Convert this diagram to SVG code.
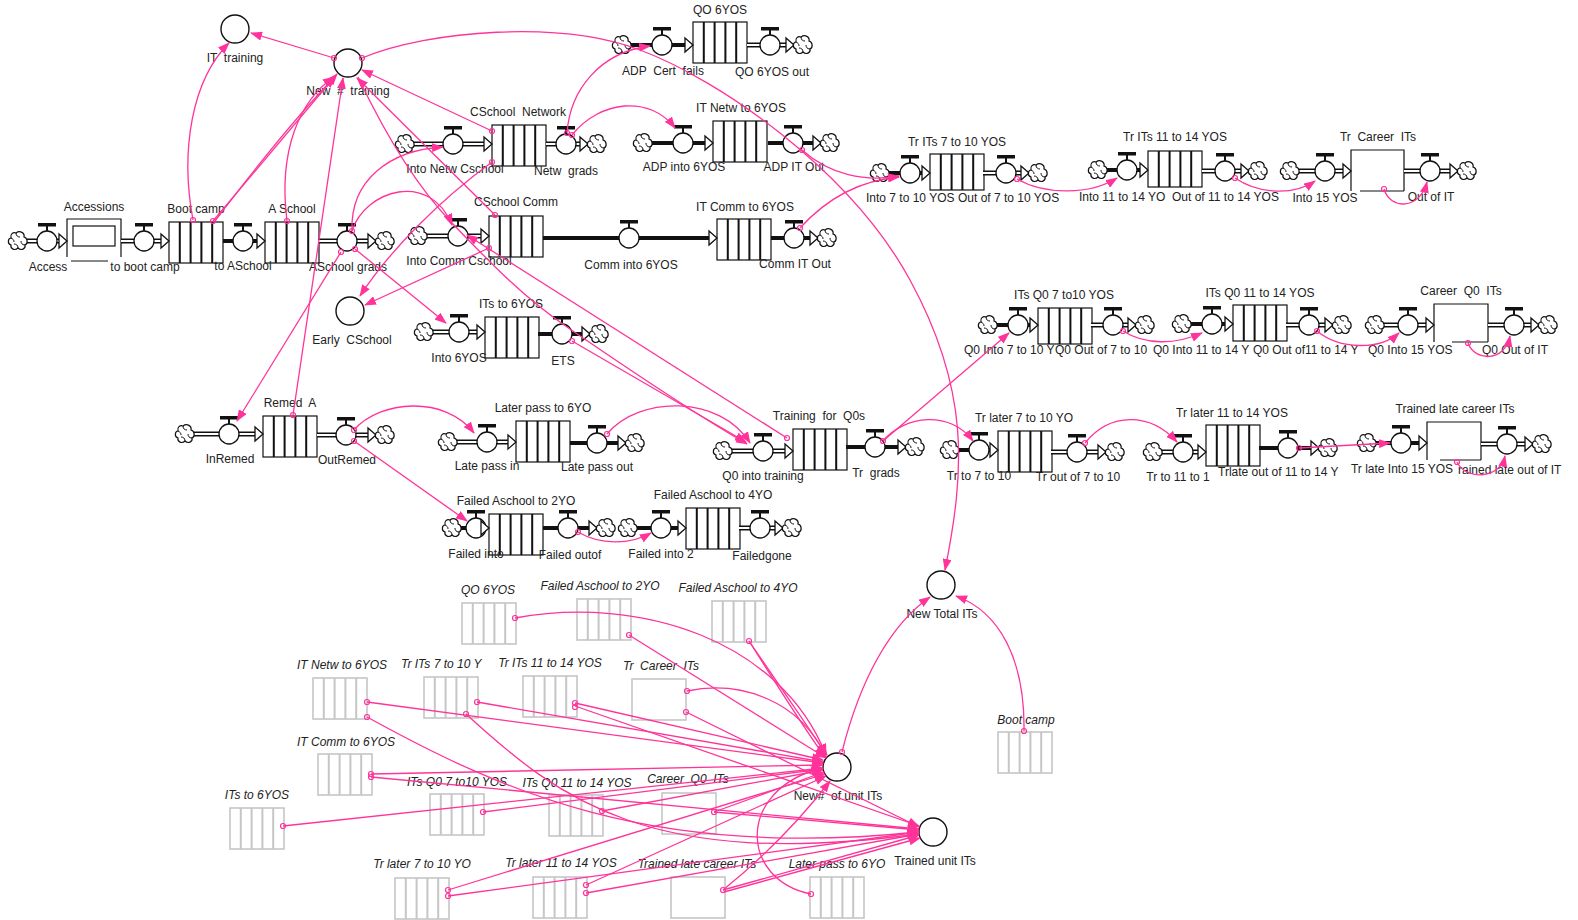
<svg xmlns="http://www.w3.org/2000/svg" width="1578" height="920" viewBox="0 0 1578 920" xml:space="preserve">
<defs>
<style>
text{font-family:"Liberation Sans",Arial,sans-serif;font-size:12px;fill:#222;text-anchor:middle;white-space:pre}
text.s{text-anchor:start}
.gh text{font-style:italic}
.st{fill:#fff;stroke:#111;stroke-width:1.2}
.cv{stroke:#111;stroke-width:2;fill:none}
.gst{fill:#fff;stroke:#c6c6c6;stroke-width:1.6}
.gcv{stroke:#c6c6c6;stroke-width:2;fill:none}
.po{stroke:#111;stroke-width:5;fill:none}
.pi{stroke:#fff;stroke-width:1.8;fill:none}
.ps{stroke:#111;stroke-width:4;fill:none}
.aux{fill:#fff;stroke:#111;stroke-width:1.4}
.cn path{stroke:#ff3399;stroke-width:1.3;fill:none;marker-end:url(#ah)}
.cn circle{fill:none;stroke:#ff3399;stroke-width:1.2}
</style>
<marker id="ah" viewBox="0 0 12 9" refX="11" refY="4.5" markerWidth="12" markerHeight="9" markerUnits="userSpaceOnUse" orient="auto"><path d="M0,0 L12,4.5 L0,9 Z" fill="#ff3399"/></marker>
<g id="valve"><rect x="-9" y="-18" width="18" height="3.5" fill="#111"/><rect x="-1" y="-15" width="2" height="5" fill="#111"/><circle r="10" fill="#fff" stroke="#111" stroke-width="1.3"/></g>
<path id="pa" d="M-8,-7 L0,0 L-8,7 Z" fill="#fff" stroke="#111" stroke-width="1.3"/>
<g id="cloud"><path d="M-2,-8 C2,-11 7,-8 6,-4 C10,-3 10,3 7,4 C8,8 3,10 0,7 C-3,10 -8,8 -7,4 C-11,3 -10,-3 -7,-3 C-8,-7 -5,-9 -2,-8 Z" fill="#fff" stroke="#111" stroke-width="1.2"/><path d="M-2,-8 C-2,-5 0,-4 2,-4 M7,4 C4,4 3,2 3,0 M0,7 C0,4 -2,3 -4,3 M-7,-3 C-5,-2 -4,-1 -4,1" fill="none" stroke="#111" stroke-width="1"/></g>
<g id="conv"><rect class="st" width="54" height="41"/><path class="cv" d="M10.8,0V41M21.6,0V41M32.4,0V41M43.2,0V41"/></g>
<g id="convs"><rect class="st" width="54" height="36"/><path class="cv" d="M10.8,0V36M21.6,0V36M32.4,0V36M43.2,0V36"/></g>
<g id="gconv"><rect class="gst" width="54" height="41"/><path class="gcv" d="M10.8,0V41M21.6,0V41M32.4,0V41M43.2,0V41"/></g>
<rect id="gres" class="gst" width="54" height="41"/>
</defs>
<rect width="1578" height="920" fill="#fff"/>

<!-- converters -->
<g id="it-training"><circle class="aux" cx="235" cy="29" r="14"/><text x="235" y="62">IT  training</text></g>
<g id="new-training"><circle class="aux" cx="348" cy="63" r="14"/><text x="348" y="95">New  #  training</text></g>
<g id="early-cschool"><circle class="aux" cx="350" cy="311" r="14"/><text x="352" y="344">Early  CSchool</text></g>
<g id="new-total-its"><circle class="aux" cx="941" cy="585" r="14"/><text x="942" y="618">New Total ITs</text></g>
<g id="new-unit-its"><circle class="aux" cx="837" cy="767" r="14"/><text x="838" y="800">New#  of unit ITs</text></g>
<g id="trained-unit-its"><circle class="aux" cx="933" cy="832" r="14"/><text x="935" y="865">Trained unit ITs</text></g>

<!-- stocks -->
<g id="accessions"><path class="st" d="M67,257V219H121V257"/><rect class="st" x="73" y="226" width="42" height="20"/><path d="M71,261H108" stroke="#111" stroke-width="1.2"/><text x="94" y="211">Accessions</text></g>
<g id="boot-camp"><use href="#conv" x="169" y="222"/><text x="196" y="213">Boot camp</text></g>
<g id="a-school"><use href="#conv" x="265" y="222"/><text x="292" y="213">A School</text></g>
<g id="cschool-network"><use href="#conv" x="492" y="125"/><text x="518" y="116">CSchool  Network</text></g>
<g id="qo-6yos"><use href="#conv" x="693" y="22"/><text x="720" y="14">QO 6YOS</text></g>
<g id="it-netw-6yos"><use href="#conv" x="713" y="121"/><text x="741" y="112">IT Netw to 6YOS</text></g>
<g id="cschool-comm"><use href="#conv" x="489" y="216"/><text x="516" y="206">CSchool Comm</text></g>
<g id="it-comm-6yos"><use href="#conv" x="717" y="219"/><text x="745" y="211">IT Comm to 6YOS</text></g>
<g id="its-6yos"><use href="#conv" x="485" y="317"/><text x="511" y="308">ITs to 6YOS</text></g>
<g id="remed-a"><use href="#conv" x="263" y="416"/><text x="290" y="407">Remed  A</text></g>
<g id="later-pass"><use href="#conv" x="516" y="421"/><text x="543" y="412">Later pass to 6YO</text></g>
<g id="failed-2yo"><use href="#conv" x="489" y="514"/><text x="516" y="505">Failed Aschool to 2YO</text></g>
<g id="failed-4yo"><use href="#conv" x="686" y="508"/><text x="713" y="499">Failed Aschool to 4YO</text></g>
<g id="training-q0s"><use href="#conv" x="793" y="429"/><text x="819" y="420">Training  for  Q0s</text></g>
<g id="tr-later-7-10"><use href="#conv" x="998" y="431"/><text x="1024" y="422">Tr later 7 to 10 YO</text></g>
<g id="tr-later-11-14"><use href="#conv" x="1206" y="425"/><text x="1232" y="417">Tr later 11 to 14 YOS</text></g>
<g id="trained-late-career"><path class="st" d="M1427,460V422H1481V460"/><path d="M1440,460H1481" stroke="#111" stroke-width="1.2"/><text x="1455" y="413">Trained late career ITs</text></g>
<g id="its-q0-7-10"><use href="#convs" x="1038" y="308"/><text x="1064" y="299">ITs Q0 7 to10 YOS</text></g>
<g id="its-q0-11-14"><use href="#convs" x="1233" y="305"/><text x="1260" y="297">ITs Q0 11 to 14 YOS</text></g>
<g id="career-q0"><path class="st" d="M1434,342V304H1488V342"/><path d="M1452,342H1488" stroke="#111" stroke-width="1.2"/><text x="1461" y="295">Career  Q0  ITs</text></g>
<g id="tr-its-7-10"><use href="#convs" x="930" y="154"/><text x="957" y="146">Tr ITs 7 to 10 YOS</text></g>
<g id="tr-its-11-14"><use href="#convs" x="1148" y="151"/><text x="1175" y="141">Tr ITs 11 to 14 YOS</text></g>
<g id="tr-career"><path class="st" d="M1351,191V150H1404V191"/><path d="M1360,191H1404" stroke="#111" stroke-width="1.2"/><text x="1378" y="141">Tr  Career  ITs</text></g>

<!-- flows -->
<g id="f-access"><path class="po" d="M27,241H61"/><path class="pi" d="M27,241H61"/><use href="#cloud" x="18" y="241"/><use href="#valve" x="47" y="241"/><use href="#pa" x="67" y="241"/><text x="48" y="271">Access</text></g>
<g id="f-to-boot-camp"><path class="po" d="M121,241H162"/><path class="pi" d="M121,241H162"/><use href="#valve" x="144" y="241"/><use href="#pa" x="169" y="241"/><text x="145" y="271">to boot camp</text></g>
<g id="f-to-aschool"><path class="ps" d="M223,241H258"/><use href="#valve" x="243" y="241"/><use href="#pa" x="265" y="241"/><text x="243" y="270">to ASchool</text></g>
<g id="f-aschool-grads"><path class="po" d="M318,241H369"/><path class="pi" d="M318,241H369"/><use href="#valve" x="347" y="241"/><use href="#pa" x="376" y="241"/><use href="#cloud" x="385" y="241"/><text x="348" y="271">ASchool grads</text></g>
<g id="f-into-netw"><path class="po" d="M414,144H485"/><path class="pi" d="M414,144H485"/><use href="#cloud" x="405" y="144"/><use href="#valve" x="453" y="144"/><use href="#pa" x="492" y="144"/><text x="455" y="173">Into Netw Cschool</text></g>
<g id="f-netw-grads"><path class="po" d="M546,144H580"/><path class="pi" d="M546,144H580"/><use href="#valve" x="566" y="144"/><use href="#pa" x="588" y="144"/><use href="#cloud" x="597" y="144"/><text x="566" y="175">Netw  grads</text></g>
<g id="f-adp-cert-fails"><path class="ps" d="M631,45H686"/><use href="#cloud" x="622" y="45"/><use href="#valve" x="662" y="45"/><use href="#pa" x="693" y="45"/><text x="663" y="75">ADP  Cert  fails</text></g>
<g id="f-qo-6yos-out"><path class="po" d="M747,45H787"/><path class="pi" d="M747,45H787"/><use href="#valve" x="770" y="45"/><use href="#pa" x="794" y="45"/><use href="#cloud" x="803" y="45"/><text x="772" y="76">QO 6YOS out</text></g>
<g id="f-adp-into-6yos"><path class="ps" d="M652,143H706"/><use href="#cloud" x="643" y="143"/><use href="#valve" x="683" y="143"/><use href="#pa" x="713" y="143"/><text x="684" y="171">ADP into 6YOS</text></g>
<g id="f-adp-it-out"><path class="ps" d="M768,143H814"/><use href="#valve" x="793" y="143"/><use href="#pa" x="821" y="143"/><use href="#cloud" x="830" y="143"/><text x="794" y="171">ADP IT Out</text></g>
<g id="f-into-comm"><path class="po" d="M427,236H482"/><path class="pi" d="M427,236H482"/><use href="#cloud" x="418" y="236"/><use href="#valve" x="458" y="236"/><use href="#pa" x="489" y="236"/><text x="459" y="265">Into Comm Cschool</text></g>
<g id="f-comm-into-6yos"><path class="ps" d="M543,238H710"/><use href="#valve" x="629" y="238"/><use href="#pa" x="717" y="238"/><text x="631" y="269">Comm into 6YOS</text></g>
<g id="f-comm-it-out"><path class="ps" d="M771,238H811"/><use href="#valve" x="794" y="238"/><use href="#pa" x="818" y="238"/><use href="#cloud" x="827" y="238"/><text x="795" y="268">Comm IT Out</text></g>
<g id="f-into-6yos"><path class="po" d="M433,332H478"/><path class="pi" d="M433,332H478"/><use href="#cloud" x="424" y="332"/><use href="#valve" x="459" y="332"/><use href="#pa" x="485" y="332"/><text x="459" y="362">Into 6YOS</text></g>
<g id="f-ets"><path class="ps" d="M538,334H583"/><use href="#valve" x="562" y="334"/><use href="#pa" x="590" y="334"/><use href="#cloud" x="599" y="334"/><text x="563" y="365">ETS</text></g>
<g id="f-inremed"><path class="po" d="M194,434H256"/><path class="pi" d="M194,434H256"/><use href="#cloud" x="185" y="434"/><use href="#valve" x="229" y="434"/><use href="#pa" x="263" y="434"/><text x="230" y="463">InRemed</text></g>
<g id="f-outremed"><path class="po" d="M317,435H369"/><path class="pi" d="M317,435H369"/><use href="#valve" x="346" y="435"/><use href="#pa" x="376" y="435"/><use href="#cloud" x="385" y="435"/><text x="347" y="464">OutRemed</text></g>
<g id="f-late-pass-in"><path class="po" d="M457,442H509"/><path class="pi" d="M457,442H509"/><use href="#cloud" x="448" y="442"/><use href="#valve" x="487" y="442"/><use href="#pa" x="516" y="442"/><text x="487" y="470">Late pass in</text></g>
<g id="f-late-pass-out"><path class="ps" d="M570,443H619"/><use href="#valve" x="597" y="443"/><use href="#pa" x="626" y="443"/><use href="#cloud" x="635" y="443"/><text x="597" y="471">Late pass out</text></g>
<g id="f-failed-into"><path class="ps" d="M461,528H482"/><use href="#cloud" x="452" y="528"/><use href="#valve" x="476" y="528"/><use href="#pa" x="489" y="528"/><text x="476" y="558">Failed into</text></g>
<g id="f-failed-outof"><path class="ps" d="M543,528H590"/><use href="#valve" x="568" y="528"/><use href="#pa" x="597" y="528"/><use href="#cloud" x="606" y="528"/><text x="570" y="559">Failed outof</text></g>
<g id="f-failed-into-2"><path class="ps" d="M637,528H679"/><use href="#cloud" x="628" y="528"/><use href="#valve" x="661" y="528"/><use href="#pa" x="686" y="528"/><text x="661" y="558">Failed into 2</text></g>
<g id="f-failedgone"><path class="po" d="M739,528H776"/><path class="pi" d="M739,528H776"/><use href="#valve" x="760" y="528"/><use href="#pa" x="783" y="528"/><use href="#cloud" x="792" y="528"/><text x="762" y="560">Failedgone</text></g>
<g id="f-q0-into-training"><path class="po" d="M732,451H786"/><path class="pi" d="M732,451H786"/><use href="#cloud" x="723" y="451"/><use href="#valve" x="763" y="451"/><use href="#pa" x="793" y="451"/><text x="763" y="480">Q0 into training</text></g>
<g id="f-tr-grads"><path class="ps" d="M846,447H899"/><use href="#valve" x="875" y="447"/><use href="#pa" x="906" y="447"/><use href="#cloud" x="915" y="447"/><text x="876" y="477">Tr  grads</text></g>
<g id="f-tr-to-7-10"><path class="ps" d="M959,450H991"/><use href="#cloud" x="950" y="450"/><use href="#valve" x="979" y="450"/><use href="#pa" x="998" y="450"/><text x="979" y="480">Tr to 7 to 10</text></g>
<g id="f-tr-out-7-10"><path class="po" d="M1051,452H1099"/><path class="pi" d="M1051,452H1099"/><use href="#valve" x="1077" y="452"/><use href="#pa" x="1106" y="452"/><use href="#cloud" x="1115" y="452"/><text x="1078" y="481">Tr out of 7 to 10</text></g>
<g id="f-tr-to-11"><path class="po" d="M1162,452H1199"/><path class="pi" d="M1162,452H1199"/><use href="#cloud" x="1153" y="452"/><use href="#valve" x="1183" y="452"/><use href="#pa" x="1206" y="452"/><text x="1178" y="481">Tr to 11 to 1</text></g>
<g id="f-trlate-out"><path class="ps" d="M1259,448H1312"/><use href="#valve" x="1288" y="448"/><use href="#pa" x="1319" y="448"/><use href="#cloud" x="1328" y="448"/><text class="s" x="1218" y="476">Trlate out of 11 to 14 Y</text></g>
<g id="f-tr-late-into-15"><path class="ps" d="M1376,443H1420"/><use href="#cloud" x="1367" y="443"/><use href="#valve" x="1401" y="443"/><use href="#pa" x="1427" y="443"/><text x="1402" y="473">Tr late Into 15 YOS</text></g>
<g id="f-trained-late-out"><path class="po" d="M1481,444H1526"/><path class="pi" d="M1481,444H1526"/><use href="#valve" x="1507" y="444"/><use href="#pa" x="1533" y="444"/><use href="#cloud" x="1542" y="444"/><text class="s" x="1458" y="474">rained late out of IT</text></g>
<g id="f-q0-into-7-10"><path class="ps" d="M997,325H1031"/><use href="#cloud" x="988" y="325"/><use href="#valve" x="1018" y="325"/><use href="#pa" x="1038" y="325"/><text class="s" x="964" y="354">Q0 Into 7 to 10 Y</text></g>
<g id="f-q0-out-7-10"><path class="po" d="M1091,325H1129"/><path class="pi" d="M1091,325H1129"/><use href="#valve" x="1113" y="325"/><use href="#pa" x="1136" y="325"/><use href="#cloud" x="1145" y="325"/><text class="s" x="1055" y="354">Q0 Out of 7 to 10</text></g>
<g id="f-q0-into-11-14"><path class="ps" d="M1191,324H1226"/><use href="#cloud" x="1182" y="324"/><use href="#valve" x="1212" y="324"/><use href="#pa" x="1233" y="324"/><text class="s" x="1153" y="354">Q0 Into 11 to 14 Y</text></g>
<g id="f-q0-out-11-14"><path class="po" d="M1286,325H1326"/><path class="pi" d="M1286,325H1326"/><use href="#valve" x="1309" y="325"/><use href="#pa" x="1333" y="325"/><use href="#cloud" x="1342" y="325"/><text class="s" x="1253" y="354">Q0 Out of11 to 14 Y</text></g>
<g id="f-q0-into-15"><path class="po" d="M1384,325H1427"/><path class="pi" d="M1384,325H1427"/><use href="#cloud" x="1375" y="325"/><use href="#valve" x="1408" y="325"/><use href="#pa" x="1434" y="325"/><text class="s" x="1368" y="354">Q0 Into 15 YOS</text></g>
<g id="f-q0-out-of-it"><path class="po" d="M1488,325H1532"/><path class="pi" d="M1488,325H1532"/><use href="#valve" x="1514" y="325"/><use href="#pa" x="1539" y="325"/><use href="#cloud" x="1548" y="325"/><text x="1515" y="354">Q0 Out of IT</text></g>
<g id="f-into-7-10"><path class="ps" d="M889,173H923"/><use href="#cloud" x="880" y="173"/><use href="#valve" x="910" y="173"/><use href="#pa" x="930" y="173"/><text class="s" x="866" y="202">Into 7 to 10 YOS</text></g>
<g id="f-out-7-10"><path class="po" d="M983,173H1022"/><path class="pi" d="M983,173H1022"/><use href="#valve" x="1006" y="173"/><use href="#pa" x="1029" y="173"/><use href="#cloud" x="1038" y="173"/><text class="s" x="958" y="202">Out of 7 to 10 YOS</text></g>
<g id="f-into-11-14"><path class="ps" d="M1107,170H1141"/><use href="#cloud" x="1098" y="170"/><use href="#valve" x="1127" y="170"/><use href="#pa" x="1148" y="170"/><text class="s" x="1079" y="201">Into 11 to 14 YO</text></g>
<g id="f-out-11-14"><path class="po" d="M1202,171H1242"/><path class="pi" d="M1202,171H1242"/><use href="#valve" x="1225" y="171"/><use href="#pa" x="1249" y="171"/><use href="#cloud" x="1258" y="171"/><text class="s" x="1172" y="201">Out of 11 to 14 YOS</text></g>
<g id="f-into-15"><path class="po" d="M1299,171H1344"/><path class="pi" d="M1299,171H1344"/><use href="#cloud" x="1290" y="171"/><use href="#valve" x="1325" y="171"/><use href="#pa" x="1351" y="171"/><text x="1325" y="202">Into 15 YOS</text></g>
<g id="f-out-of-it"><path class="po" d="M1404,171H1451"/><path class="pi" d="M1404,171H1451"/><use href="#valve" x="1430" y="171"/><use href="#pa" x="1458" y="171"/><use href="#cloud" x="1467" y="171"/><text x="1431" y="201">Out of IT</text></g>

<!-- ghost stocks -->
<g class="gh">
<g id="g-qo-6yos"><use href="#gconv" x="462" y="603"/><text x="488" y="594">QO 6YOS</text></g>
<g id="g-failed-2yo"><use href="#gconv" x="577" y="599"/><text x="600" y="590">Failed Aschool to 2YO</text></g>
<g id="g-failed-4yo"><use href="#gconv" x="712" y="601"/><text x="738" y="592">Failed Aschool to 4YO</text></g>
<g id="g-it-netw"><use href="#gconv" x="313" y="678"/><text x="342" y="669">IT Netw to 6YOS</text></g>
<g id="g-tr-its-7-10"><use href="#gconv" x="424" y="677"/><text class="s" x="401" y="668">Tr ITs 7 to 10 Y</text></g>
<g id="g-tr-its-11-14"><use href="#gconv" x="523" y="676"/><text x="550" y="667">Tr ITs 11 to 14 YOS</text></g>
<g id="g-tr-career"><use href="#gres" x="632" y="679"/><text x="661" y="670">Tr  Career  ITs</text></g>
<g id="g-it-comm"><use href="#gconv" x="318" y="754"/><text x="346" y="746">IT Comm to 6YOS</text></g>
<g id="g-its-6yos"><use href="#gconv" x="230" y="808"/><text x="257" y="799">ITs to 6YOS</text></g>
<g id="g-its-q0-7-10"><use href="#gconv" x="430" y="794"/><text x="457" y="786">ITs Q0 7 to10 YOS</text></g>
<g id="g-its-q0-11-14"><use href="#gconv" x="549" y="795"/><text x="577" y="787">ITs Q0 11 to 14 YOS</text></g>
<g id="g-career-q0"><use href="#gres" x="662" y="793"/><text x="688" y="783">Career  Q0  ITs</text></g>
<g id="g-tr-later-7-10"><use href="#gconv" x="395" y="878"/><text x="422" y="868">Tr later 7 to 10 YO</text></g>
<g id="g-tr-later-11-14"><use href="#gconv" x="533" y="877"/><text x="561" y="867">Tr later 11 to 14 YOS</text></g>
<g id="g-trained-late"><use href="#gres" x="671" y="877"/><text x="697" y="868">Trained late career ITs</text></g>
<g id="g-later-pass"><use href="#gconv" x="810" y="877"/><text x="837" y="868">Later pass to 6YO</text></g>
<g id="g-boot-camp"><use href="#gconv" x="998" y="732"/><text x="1026" y="724">Boot camp</text></g>
</g>

<!-- connectors -->
<g id="connectors" class="cn">
<path d="M334,58 L251,33"/><circle cx="334" cy="58" r="2.5"/>
<path d="M193,220 C180,150 192,80 229,43"/><circle cx="193" cy="220" r="2.5"/>
<path d="M213,221 L337,74"/><circle cx="213" cy="221" r="2.5"/>
<path d="M215,221 C250,175 300,112 335,77"/>
<path d="M287,221 C278,150 300,100 334,77"/><circle cx="287" cy="221" r="2.5"/>
<path d="M293,415 L343,78"/><circle cx="293" cy="415" r="2.5"/>
<path d="M492,131 L362,70"/><circle cx="492" cy="131" r="2.5"/>
<path d="M495,215 L357,78"/><circle cx="495" cy="215" r="2.5"/>
<path d="M358,77 C388,140 420,190 452,223 S520,295 567,327 S680,405 747,444"/>
<path d="M572,341 L746,442"/><circle cx="572" cy="341" r="2.5"/>
<path d="M787,438 L467,235"/><circle cx="787" cy="438" r="2.5"/>
<path d="M492,162 C440,200 390,250 360,296"/><circle cx="492" cy="162" r="2.5"/>
<path d="M489,248 L365,305"/><circle cx="489" cy="248" r="2.5"/>
<path d="M352,231 C350,180 390,150 443,147"/><circle cx="352" cy="231" r="2.5"/>
<path d="M352,231 C365,190 430,170 452,225"/>
<path d="M341,252 L237,421"/><circle cx="341" cy="252" r="2.5"/>
<path d="M355,249 L446,323"/><circle cx="355" cy="249" r="2.5"/>
<path d="M354,430 C380,400 445,395 474,433"/><circle cx="354" cy="430" r="2.5"/>
<path d="M354,441 L467,521"/><circle cx="354" cy="441" r="2.5"/>
<path d="M578,532 C600,545 630,545 651,533"/><circle cx="578" cy="532" r="2.5"/>
<path d="M607,434 C640,395 720,395 750,443"/><circle cx="607" cy="434" r="2.5"/>
<path d="M567,133 C570,90 600,52 650,46"/><circle cx="567" cy="133" r="2.5"/>
<path d="M572,135 C600,100 650,95 675,128"/><circle cx="572" cy="135" r="2.5"/>
<path d="M362,58 C430,30 560,20 640,50 S850,170 910,280 S965,470 945,570"/><circle cx="362" cy="58" r="2.5"/>
<path d="M802,150 C830,175 865,182 899,176"/><circle cx="802" cy="150" r="2.5"/>
<path d="M800,228 C830,195 865,180 899,177"/><circle cx="800" cy="228" r="2.5"/>
<path d="M1017,179 C1045,195 1090,195 1117,178"/><circle cx="1017" cy="179" r="2.5"/>
<path d="M1235,178 C1260,195 1295,195 1315,181"/><circle cx="1235" cy="178" r="2.5"/>
<path d="M1384,189 C1390,210 1420,210 1427,182"/><circle cx="1384" cy="189" r="2.5"/>
<path d="M1123,331 C1145,345 1175,345 1202,333"/><circle cx="1123" cy="331" r="2.5"/>
<path d="M1317,331 C1340,350 1380,350 1399,333"/><circle cx="1317" cy="331" r="2.5"/>
<path d="M1468,343 C1475,362 1505,362 1510,336"/><circle cx="1468" cy="343" r="2.5"/>
<path d="M883,441 L1009,333"/><circle cx="883" cy="441" r="2.5"/>
<path d="M883,441 C905,415 950,410 973,441"/>
<path d="M1085,443 C1110,412 1150,412 1177,442"/><circle cx="1085" cy="443" r="2.5"/>
<path d="M1299,448 L1390,443"/><circle cx="1299" cy="448" r="2.5"/>
<path d="M1457,462 C1465,480 1500,480 1505,456"/><circle cx="1457" cy="462" r="2.5"/>
<path d="M515,618 C640,595 780,640 826,755"/><circle cx="515" cy="618" r="2.5"/>
<path d="M629,635 L826,758"/><circle cx="629" cy="635" r="2.5"/>
<path d="M749,641 L827,755"/><circle cx="749" cy="641" r="2.5"/>
<path d="M749,641 C780,690 805,730 825,757"/>
<path d="M687,691 C740,680 800,700 826,757"/><circle cx="687" cy="691" r="2.5"/>
<path d="M686,712 L919,827"/><circle cx="686" cy="712" r="2.5"/>
<path d="M367,702 L823,763"/><circle cx="367" cy="702" r="2.5"/>
<path d="M367,717 C500,790 650,860 918,832"/><circle cx="367" cy="717" r="2.5"/>
<path d="M477,702 L823,762"/><circle cx="477" cy="702" r="2.5"/>
<path d="M466,714 C560,800 650,870 918,834"/><circle cx="466" cy="714" r="2.5"/>
<path d="M575,703 L823,760"/><circle cx="575" cy="703" r="2.5"/>
<path d="M575,706 L919,826"/><circle cx="575" cy="707" r="2.5"/>
<path d="M371,774 L823,765"/><circle cx="371" cy="774" r="2.5"/>
<path d="M371,777 L919,829"/><circle cx="371" cy="777" r="2.5"/>
<path d="M283,826 L823,768"/><circle cx="283" cy="826" r="2.5"/>
<path d="M483,812 L823,769"/><circle cx="483" cy="812" r="2.5"/>
<path d="M602,811 L823,770"/><circle cx="602" cy="811" r="2.5"/>
<path d="M714,812 L824,772"/><circle cx="714" cy="812" r="2.5"/>
<path d="M714,812 L919,830"/>
<path d="M448,890 L825,774"/><circle cx="448" cy="890" r="2.5"/>
<path d="M448,896 L919,832"/><circle cx="448" cy="896" r="2.5"/>
<path d="M586,885 L826,776"/><circle cx="586" cy="885" r="2.5"/>
<path d="M586,893 L919,834"/><circle cx="586" cy="893" r="2.5"/>
<path d="M723,890 C760,860 800,820 830,781"/><circle cx="723" cy="890" r="2.5"/>
<path d="M723,890 L919,835"/>
<path d="M724,892 L920,838"/>
<path d="M811,894 C740,880 735,790 822,768"/><circle cx="811" cy="894" r="2.5"/>
<path d="M842,752 C860,680 890,625 930,597"/><circle cx="842" cy="752" r="2.5"/>
<path d="M1024,731 C1025,660 1000,612 956,596"/><circle cx="1024" cy="731" r="2.5"/>
</g>
</svg>
